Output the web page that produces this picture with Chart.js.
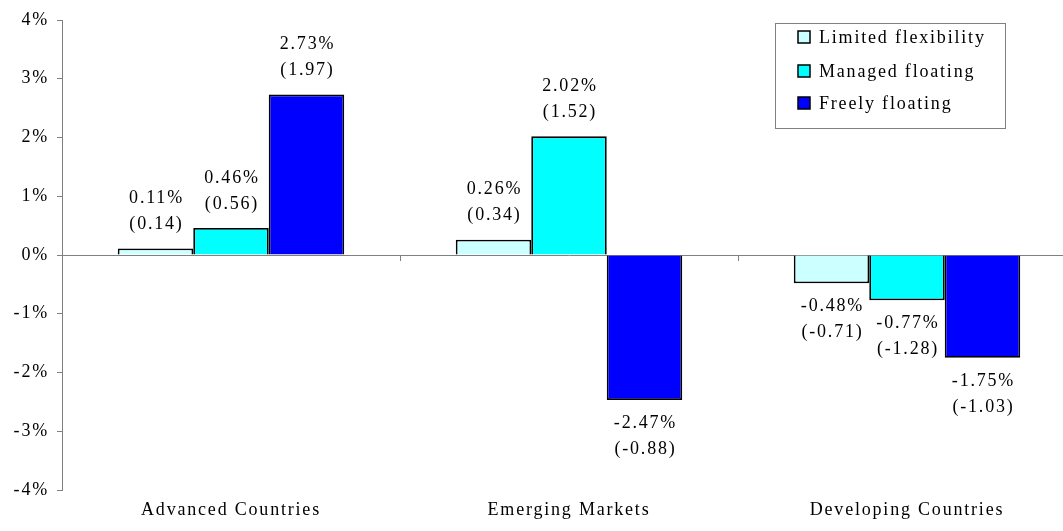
<!DOCTYPE html>
<html lang="en">
<head>
  <meta charset="UTF-8" />
  <title>Returns by exchange rate regime</title>
  <script src="https://cdn.jsdelivr.net/npm/chart.js"></script>
  <style>
    html, body { margin: 0; padding: 0; background: #fff; overflow: hidden; }
    #wrap { width: 1079px; height: 531px; }
  </style>
</head>
<body>
<div id="wrap"><canvas id="barChart"></canvas></div>

<script>
  const categories = ['Advanced Countries', 'Emerging Markets', 'Developing Countries'];
  const seriesNames = ['Limited flexibility', 'Managed floating', 'Freely floating'];

  // mean return (%) per regime
  const limitedFlex = [0.11, 0.26, -0.48];
  const managedFloat = [0.46, 2.02, -0.77];
  const freelyFloat = [2.73, -2.47, -1.75];

  // t-statistics shown in brackets
  const limitedT = [0.14, 0.34, -0.71];
  const managedT = [0.56, 1.52, -1.28];
  const freelyT = [1.97, -0.88, -1.03];

  const yMin = -4, yMax = 4, yStep = 1;

  const colors = ['#CCFFFF', '#00FFFF', '#0000FF'];
  const FAMILY = '"Liberation Serif", "Times New Roman", serif';
  const FONT = '18px ' + FAMILY;
  const SPACING = '1.8px';
  const tStats = [limitedT, managedT, freelyT];

  const spacingPlugin = {
    id: 'spacing',
    beforeLayout(chart) { chart.ctx.letterSpacing = SPACING; },
    beforeDraw(chart) { chart.ctx.letterSpacing = SPACING; }
  };

  const extrasPlugin = {
    id: 'extras',
    afterDatasetsDraw(chart) {
      const ctx = chart.ctx;
      const x = chart.scales.x, y = chart.scales.y;
      const zero = y.getPixelForValue(0);

      // small ticks between categories on the zero line
      ctx.save();
      ctx.strokeStyle = '#808080';
      ctx.lineWidth = 1;
      for (let i = 0; i < categories.length - 1; i++) {
        const bx = Math.round((x.getPixelForValue(i) + x.getPixelForValue(i + 1)) / 2) + 0.5;
        ctx.beginPath();
        ctx.moveTo(bx, zero);
        ctx.lineTo(bx, zero + 6);
        ctx.stroke();
      }
      ctx.restore();

      // value labels
      ctx.save();
      ctx.letterSpacing = SPACING;
      ctx.font = FONT;
      ctx.fillStyle = '#000';
      ctx.textAlign = 'center';
      ctx.textBaseline = 'middle';
      chart.data.datasets.forEach((ds, di) => {
        const meta = chart.getDatasetMeta(di);
        meta.data.forEach((bar, i) => {
          const v = ds.data[i];
          const line1 = v.toFixed(2) + '%';
          const line2 = '(' + tStats[di][i].toFixed(2) + ')';
          const cx = bar.x + 1;
          if (v >= 0) {
            ctx.fillText(line1, cx, bar.y - 50);
            ctx.fillText(line2, cx, bar.y - 24);
          } else {
            ctx.fillText(line1, cx, bar.y + 23);
            ctx.fillText(line2, cx, bar.y + 49);
          }
        });
      });
      ctx.restore();
    },
    afterDraw(chart) {
      // legend box in the upper right
      const ctx = chart.ctx;
      ctx.save();
      ctx.letterSpacing = SPACING;
      ctx.strokeStyle = '#808080';
      ctx.lineWidth = 1;
      ctx.strokeRect(775.5, 23.5, 230, 105);
      ctx.font = FONT;
      ctx.textAlign = 'left';
      ctx.textBaseline = 'middle';
      const rows = [37, 71, 103];
      chart.data.datasets.forEach((ds, i) => {
        ctx.fillStyle = ds.backgroundColor;
        ctx.fillRect(798, rows[i] - 6, 12, 12);
        ctx.strokeStyle = '#000';
        ctx.lineWidth = 1.5;
        ctx.strokeRect(798, rows[i] - 6, 12, 12);
        ctx.fillStyle = '#000';
        ctx.fillText(ds.label, 819, rows[i] + 1);
      });
      ctx.restore();
    }
  };

  const datasets = [limitedFlex, managedFloat, freelyFloat].map((vals, i) => ({
    label: seriesNames[i],
    data: vals,
    backgroundColor: colors[i],
    borderColor: '#000',
    borderWidth: 1.8,
    categoryPercentage: 0.67,
    barPercentage: 1.0
  }));

  new Chart(document.getElementById('barChart'), {
    type: 'bar',
    data: { labels: categories, datasets: datasets },
    plugins: [spacingPlugin, extrasPlugin],
    options: {
      responsive: true,
      maintainAspectRatio: false,
      animation: false,
      layout: { padding: { top: 20, bottom: 6, left: 0, right: 3 } },
      plugins: { legend: { display: false }, tooltip: { enabled: false } },
      scales: {
        x: {
          afterFit(scale) { scale.height = 35; },
          grid: { display: false },
          border: { display: false },
          ticks: { color: '#000', font: { family: FAMILY, size: 18 }, padding: 1 }
        },
        y: {
          min: yMin,
          max: yMax,
          afterFit(scale) { scale.width = 62; },
          border: { display: true, color: '#808080', width: 1 },
          grid: {
            drawOnChartArea: true,
            color: c => (c.tick && c.tick.value === 0 ? '#808080' : 'rgba(0,0,0,0)'),
            tickColor: '#808080',
            tickLength: 5
          },
          ticks: {
            stepSize: yStep,
            color: '#000',
            padding: 8,
            font: { family: FAMILY, size: 18 },
            callback: v => v + '%'
          }
        }
      }
    }
  });
</script>
</body>
</html>
